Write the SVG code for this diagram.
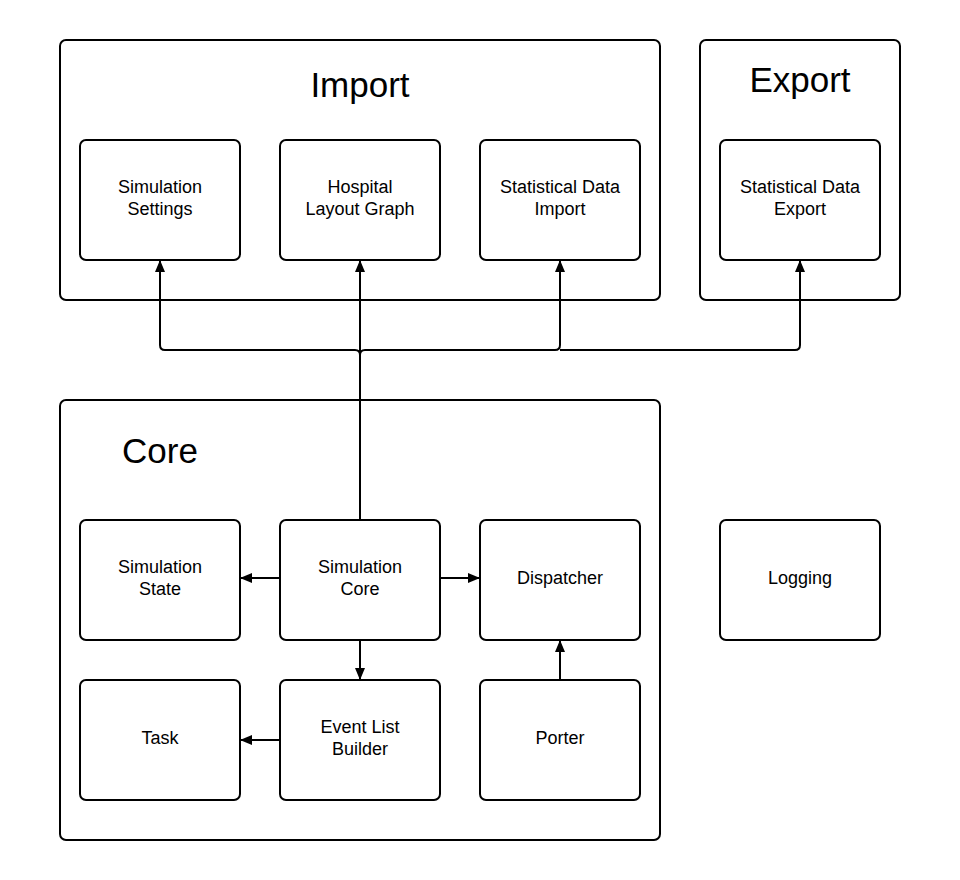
<svg xmlns="http://www.w3.org/2000/svg" width="960" height="880" viewBox="0 0 960 880">
<style>
.c{fill:#fff;stroke:#000;stroke-width:2}
.n{fill:#fff;stroke:#000;stroke-width:2}
.t{font-family:"Liberation Sans",Arial,sans-serif;font-size:18px;text-anchor:middle;fill:#000}
.h{font-family:"Liberation Sans",Arial,sans-serif;font-size:35px;text-anchor:middle;fill:#000}
.e{fill:none;stroke:#000;stroke-width:2}
</style>
<defs>
<marker id="a" viewBox="0 0 12 10" refX="12" refY="5" markerWidth="12" markerHeight="10" markerUnits="userSpaceOnUse" orient="auto">
<path d="M0,0 L12,5 L0,10 Z" fill="#000"/>
</marker>
</defs>
<rect width="960" height="880" fill="#fff"/>
<g id="import"><rect class="c" x="60" y="40" width="600" height="260" rx="6"/><text class="h" x="360" y="97">Import</text></g>
<g id="export"><rect class="c" x="700" y="40" width="200" height="260" rx="6"/><text class="h" x="800" y="92">Export</text></g>
<g id="core"><rect class="c" x="60" y="400" width="600" height="440" rx="6"/><text class="h" x="160" y="463">Core</text></g>
<g id="sim-settings"><rect class="n" x="80" y="140" width="160" height="120" rx="6"/><text class="t" x="160" y="192.5">Simulation</text><text class="t" x="160" y="214.5">Settings</text></g>
<g id="hospital"><rect class="n" x="280" y="140" width="160" height="120" rx="6"/><text class="t" x="360" y="192.5">Hospital</text><text class="t" x="360" y="214.5">Layout Graph</text></g>
<g id="stat-import"><rect class="n" x="480" y="140" width="160" height="120" rx="6"/><text class="t" x="560" y="192.5">Statistical Data</text><text class="t" x="560" y="214.5">Import</text></g>
<g id="stat-export"><rect class="n" x="720" y="140" width="160" height="120" rx="6"/><text class="t" x="800" y="192.5">Statistical Data</text><text class="t" x="800" y="214.5">Export</text></g>
<g id="sim-state"><rect class="n" x="80" y="520" width="160" height="120" rx="6"/><text class="t" x="160" y="572.5">Simulation</text><text class="t" x="160" y="594.5">State</text></g>
<g id="sim-core"><rect class="n" x="280" y="520" width="160" height="120" rx="6"/><text class="t" x="360" y="572.5">Simulation</text><text class="t" x="360" y="594.5">Core</text></g>
<g id="dispatcher"><rect class="n" x="480" y="520" width="160" height="120" rx="6"/><text class="t" x="560" y="583.5">Dispatcher</text></g>
<g id="logging"><rect class="n" x="720" y="520" width="160" height="120" rx="6"/><text class="t" x="800" y="583.5">Logging</text></g>
<g id="task"><rect class="n" x="80" y="680" width="160" height="120" rx="6"/><text class="t" x="160" y="743.5">Task</text></g>
<g id="event-list"><rect class="n" x="280" y="680" width="160" height="120" rx="6"/><text class="t" x="360" y="732.5">Event List</text><text class="t" x="360" y="754.5">Builder</text></g>
<g id="porter"><rect class="n" x="480" y="680" width="160" height="120" rx="6"/><text class="t" x="560" y="743.5">Porter</text></g>
<g id="connectors">
<path class="e" d="M360,520 V260" marker-end="url(#a)"/>
<path class="e" d="M355,350 H165 Q160,350 160,345 V260" marker-end="url(#a)"/>
<path class="e" d="M365,350 H555 Q560,350 560,345 V260" marker-end="url(#a)"/>
<path class="e" d="M560,350 H795 Q800,350 800,345 V260" marker-end="url(#a)"/>
<path class="e" d="M355,350 Q360,350 360,355 Q360,350 365,350"/>
<path class="e" d="M280,578 H240" marker-end="url(#a)"/>
<path class="e" d="M440,578 H480" marker-end="url(#a)"/>
<path class="e" d="M360,640 V680" marker-end="url(#a)"/>
<path class="e" d="M280,740 H240" marker-end="url(#a)"/>
<path class="e" d="M560,680 V640" marker-end="url(#a)"/>
</g>
</svg>
